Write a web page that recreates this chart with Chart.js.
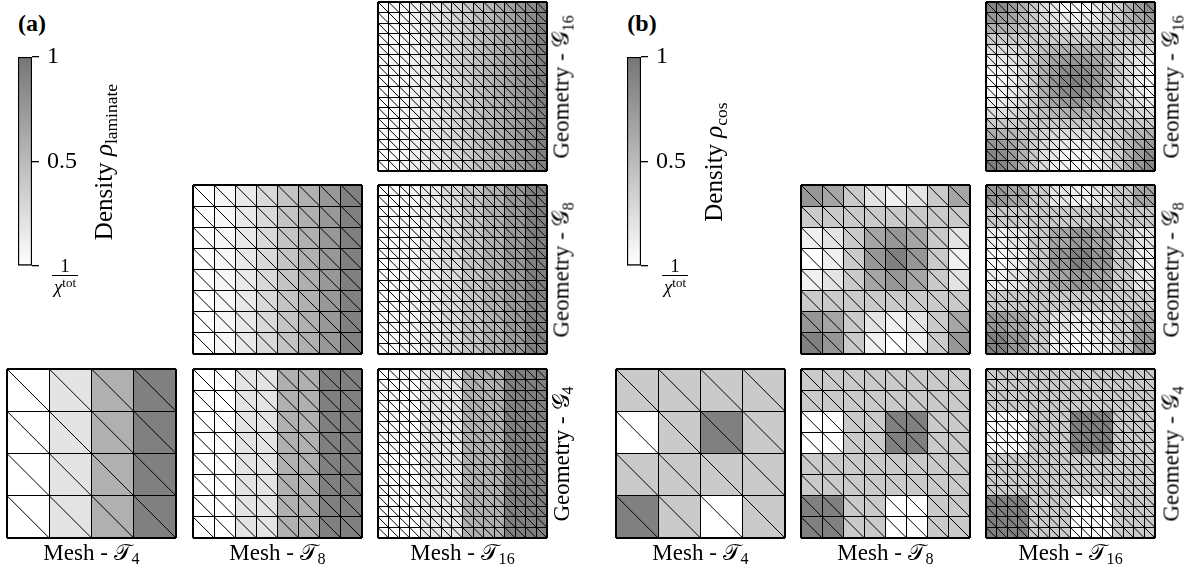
<!DOCTYPE html>
<html><head><meta charset="utf-8">
<script src="https://cdn.jsdelivr.net/npm/chart.js@4"></script>
<style>
html,body{margin:0;padding:0;background:#fff;}
#root{position:relative;width:1199px;height:574px;overflow:hidden;font-family:'Liberation Serif',serif;color:#000;}
#root canvas{position:absolute;}
.lbl{position:absolute;white-space:nowrap;font-size:23px;line-height:1;transform:translate(-50%,-50%);}
.rot{transform:translate(-50%,-50%) rotate(-90deg);}
.big{font-size:25px;}
.scr{font-family:'DejaVu Serif','DejaVu Sans','Noto Sans',serif;font-style:normal;font-weight:normal;}
.lbl sub{font-size:0.7em;vertical-align:-0.3em;line-height:0;}
.frac{position:absolute;transform:translateX(-50%);text-align:center;font-size:19px;line-height:1;}
.frac .den{border-top:1.3px solid #000;padding:1px 2px 0 2px;font-style:italic;}
.frac sup{font-size:0.68em;font-style:normal;vertical-align:0.45em;line-height:0;}
</style></head><body><div id="root"></div>
<script>
// ---------------- data ----------------
const meshSizes = [4, 8, 16];
const geometrySizes = [4, 8, 16];
// panel (a): laminate density per column (left -> right) for each geometry
const laminateG4 = [0, 0.20, 0.58, 0.93];
const laminateG8 = [0, 0.06, 0.16, 0.28, 0.43, 0.58, 0.75, 0.93];
const laminateG16 = [0, 0.02, 0.06, 0.10, 0.15, 0.20, 0.26, 0.32, 0.39, 0.46, 0.53, 0.60, 0.68, 0.76, 0.84, 0.93];
// panel (b): cosine density per cell, rows listed top -> bottom
const cosG4 = [
  [0.39, 0.39, 0.39, 0.39],
  [0.00, 0.39, 0.93, 0.39],
  [0.39, 0.39, 0.39, 0.39],
  [0.93, 0.39, 0.00, 0.39]
];
const cosG8 = [
  [0.77, 0.66, 0.39, 0.20, 0.11, 0.20, 0.39, 0.66],
  [0.39, 0.39, 0.39, 0.39, 0.39, 0.39, 0.39, 0.39],
  [0.11, 0.20, 0.39, 0.66, 0.77, 0.66, 0.39, 0.20],
  [0.00, 0.11, 0.39, 0.77, 0.93, 0.77, 0.39, 0.11],
  [0.11, 0.20, 0.39, 0.66, 0.77, 0.66, 0.39, 0.20],
  [0.39, 0.39, 0.39, 0.39, 0.39, 0.39, 0.39, 0.39],
  [0.77, 0.66, 0.39, 0.20, 0.11, 0.20, 0.39, 0.66],
  [0.93, 0.77, 0.39, 0.11, 0.00, 0.11, 0.39, 0.77]
];
const cosG16 = [
  [0.89,0.85,0.74,0.58,0.39,0.25,0.14,0.06,0.03,0.06,0.14,0.25,0.39,0.58,0.74,0.85],
  [0.77,0.74,0.66,0.54,0.39,0.28,0.20,0.14,0.11,0.14,0.20,0.28,0.39,0.54,0.66,0.74],
  [0.60,0.58,0.54,0.47,0.39,0.33,0.28,0.25,0.24,0.25,0.28,0.33,0.39,0.47,0.54,0.58],
  [0.39,0.39,0.39,0.39,0.39,0.39,0.39,0.39,0.39,0.39,0.39,0.39,0.39,0.39,0.39,0.39],
  [0.24,0.25,0.28,0.33,0.39,0.47,0.54,0.58,0.60,0.58,0.54,0.47,0.39,0.33,0.28,0.25],
  [0.11,0.14,0.20,0.28,0.39,0.54,0.66,0.74,0.77,0.74,0.66,0.54,0.39,0.28,0.20,0.14],
  [0.03,0.06,0.14,0.25,0.39,0.58,0.74,0.85,0.89,0.85,0.74,0.58,0.39,0.25,0.14,0.06],
  [0.00,0.03,0.11,0.24,0.39,0.60,0.77,0.89,0.93,0.89,0.77,0.60,0.39,0.24,0.11,0.03],
  [0.03,0.06,0.14,0.25,0.39,0.58,0.74,0.85,0.89,0.85,0.74,0.58,0.39,0.25,0.14,0.06],
  [0.11,0.14,0.20,0.28,0.39,0.54,0.66,0.74,0.77,0.74,0.66,0.54,0.39,0.28,0.20,0.14],
  [0.24,0.25,0.28,0.33,0.39,0.47,0.54,0.58,0.60,0.58,0.54,0.47,0.39,0.33,0.28,0.25],
  [0.39,0.39,0.39,0.39,0.39,0.39,0.39,0.39,0.39,0.39,0.39,0.39,0.39,0.39,0.39,0.39],
  [0.60,0.58,0.54,0.47,0.39,0.33,0.28,0.25,0.24,0.25,0.28,0.33,0.39,0.47,0.54,0.58],
  [0.77,0.74,0.66,0.54,0.39,0.28,0.20,0.14,0.11,0.14,0.20,0.28,0.39,0.54,0.66,0.74],
  [0.89,0.85,0.74,0.58,0.39,0.25,0.14,0.06,0.03,0.06,0.14,0.25,0.39,0.58,0.74,0.85],
  [0.93,0.89,0.77,0.60,0.39,0.24,0.11,0.03,0.00,0.03,0.11,0.24,0.39,0.60,0.77,0.89]
];
const colorbarTicks = [0, 0.5, 1];
const colorbarTickLabels = ['', '0.5', '1'];

// ---------------- layout ----------------
const root = document.getElementById('root');
const SIZE = 169, PAD = 3;
const FONT = 'Liberation Serif';
const panels = [
  {colX:[7,193,378], geomX:561, cbX:18, cbLabelX:103, fracX:65, title:'(a)', titleX:32,
   density:'laminate', lam:{4:laminateG4, 8:laminateG8, 16:laminateG16}},
  {colX:[616,801,986], geomX:1171, cbX:627, cbLabelX:713, fracX:675, title:'(b)', titleX:642,
   density:'cos', cos:{4:cosG4, 8:cosG8, 16:cosG16}}
];
const rowY = {16:2, 8:185, 4:369};
const CB_TOP = 57, CB_H = 209, CB_W = 14;

function grayOf(r){ const g = Math.round(255 - 137*r); return `rgb(${g},${g},${g})`; }

function addCanvas(left, top, w, h){
  const c = document.createElement('canvas');
  c.width = w; c.height = h;
  c.style.left = left + 'px'; c.style.top = top + 'px';
  c.style.width = w + 'px'; c.style.height = h + 'px';
  root.appendChild(c);
  return c;
}
function addLabel(html, x, y, cls, extra){
  const d = document.createElement('div');
  d.className = 'lbl' + (cls ? ' ' + cls : '');
  d.style.left = x + 'px'; d.style.top = y + 'px';
  if (extra) Object.assign(d.style, extra);
  d.innerHTML = html;
  root.appendChild(d);
  return d;
}

function meshChart(canvas, N, valueAt){
  const datasets = [];
  for (let r = 0; r < N; r++){
    const j = N - 1 - r;
    const data = [], colors = [];
    for (let i = 0; i < N; i++){ data.push({x:i+0.5, y:[j, j+1]}); colors.push(grayOf(valueAt(i, r))); }
    datasets.push({type:'bar', data, backgroundColor:colors, borderWidth:0, grouped:false,
      barPercentage:1, categoryPercentage:1, order:2});
  }
  const diag = [];
  for (let k = 1; k < 2*N; k++){
    diag.push({x:Math.max(0,k-N), y:Math.min(N,k)}, {x:Math.min(N,k), y:Math.max(0,k-N)}, {x:null, y:null});
  }
  datasets.push({type:'line', data:diag, borderColor:'#000', borderWidth:1, pointRadius:0,
    spanGaps:false, fill:false, tension:0, order:1});
  const axis = () => ({
    type:'linear', min:0, max:N, offset:false,
    afterBuildTicks:(s)=>{ s.ticks = Array.from({length:N+1}, (_, i) => ({value:i})); },
    ticks:{display:false},
    grid:{color:'#000', drawTicks:false, offset:false, z:1,
      lineWidth:(c)=> (c.tick && (c.tick.value === 0 || c.tick.value === N)) ? 2 : 1},
    border:{display:false}
  });
  new Chart(canvas, {
    type:'bar',
    data:{datasets},
    options:{responsive:false, animation:false, events:[],
      layout:{padding:PAD},
      plugins:{legend:{display:false}, tooltip:{enabled:false}},
      scales:{x:axis(), y:axis()}}
  });
}

function colorbarChart(canvas){
  new Chart(canvas, {
    type:'bar',
    data:{labels:[''], datasets:[{data:[[0,1]],
      backgroundColor:(ctx)=>{
        const ca = ctx.chart.chartArea; if (!ca) return grayOf(0.5);
        const g = ctx.chart.ctx.createLinearGradient(0, ca.bottom, 0, ca.top);
        g.addColorStop(0, grayOf(colorbarTicks[0])); g.addColorStop(1, grayOf(colorbarTicks[2]));
        return g;
      },
      borderColor:'#000', borderWidth:1.5, borderSkipped:false, barPercentage:1, categoryPercentage:1}]},
    options:{responsive:false, animation:false, events:[],
      layout:{padding:{left:2, top:14, bottom:14, right:0}},
      plugins:{legend:{display:false}, tooltip:{enabled:false}},
      scales:{
        x:{display:false},
        y:{position:'right', min:0, max:1,
          afterBuildTicks:(s)=>{ s.ticks = colorbarTicks.map(v => ({value:v})); },
          afterFit:(s)=>{ s.width = 60; s.paddingTop = 0; s.paddingBottom = 0; },
          ticks:{callback:(v)=> colorbarTickLabels[colorbarTicks.indexOf(v)], color:'#000', padding:8,
            font:{family:FONT, size:24}},
          grid:{drawOnChartArea:false, drawTicks:true, tickLength:7, color:'#000', lineWidth:1.3},
          border:{display:false}}
      }}
  });
}

panels.forEach(p => {
  geometrySizes.forEach(M => {
    meshSizes.forEach((N, ci) => {
      if (N < M) return;
      const x0 = p.colX[ci], y0 = rowY[M];
      const c = addCanvas(x0 - PAD, y0 - PAD, SIZE + 2*PAD, SIZE + 2*PAD);
      let valueAt;
      if (p.lam){ const g = p.lam[M]; valueAt = (i, r) => g[Math.floor(i*M/N)]; }
      else { const g = p.cos[M]; valueAt = (i, r) => g[Math.floor(r*M/N)][Math.floor(i*M/N)]; }
      meshChart(c, N, valueAt);
    });
    addLabel('Geometry - <span class="scr">\u{1D4A2}</span><sub>' + M + '</sub>', p.geomX, rowY[M] + SIZE/2, 'rot');
  });
  meshSizes.forEach((N, ci) => {
    addLabel('Mesh - <span class="scr">\u{1D4AF}</span><sub>' + N + '</sub>', p.colX[ci] + SIZE/2, 552);
  });
  const cb = addCanvas(p.cbX - 2, CB_TOP - 14, 2 + CB_W + 60, CB_H + 28);
  colorbarChart(cb);
  const fr = document.createElement('div');
  fr.className = 'frac';
  fr.style.left = p.fracX + 'px'; fr.style.top = '256px';
  fr.innerHTML = '<div>1</div><div class="den">\u03C7<sup>tot</sup></div>';
  root.appendChild(fr);
  addLabel('Density <i>\u03C1</i><sub>' + p.density + '</sub>', p.cbLabelX, 162, 'rot big');
  addLabel(p.title, p.titleX, 23, '', {fontWeight:'bold', fontSize:'24px'});
});
</script></body></html>
